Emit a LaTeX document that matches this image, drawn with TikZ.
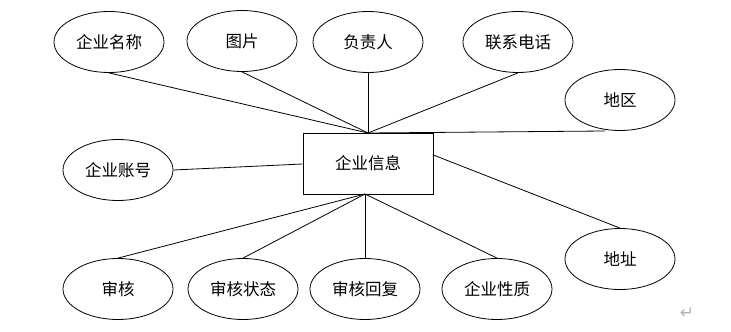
\documentclass[tikz,border=0pt]{standalone}
\usepackage{fontspec}
\newfontfamily\cjk{Noto Sans CJK SC}
\newfontfamily\symf{DejaVu Sans}
\usetikzlibrary{shapes.geometric}
\begin{document}
\begin{tikzpicture}[x=1pt,y=-1pt,
  attr/.style={draw, ellipse, minimum width=110pt, minimum height=61pt, inner sep=0pt, font=\cjk\fontsize{16.5}{18}\selectfont, line width=0.8pt},
  ent/.style={draw, rectangle, minimum width=130pt, minimum height=61pt, inner sep=0pt, font=\cjk\fontsize{16.5}{18}\selectfont, line width=0.8pt},
  link/.style={line width=0.8pt}]
\useasboundingbox (0,0) rectangle (731,332);
\node[ent] (e) at (368,163.5) {企业信息};
\node[attr] (a1) at (109,42) {企业名称};
\node[attr] (a2) at (242,41) {图片};
\node[attr] (a3) at (368,42) {负责人};
\node[attr] (a4) at (518,42) {联系电话};
\node[attr] (a5) at (620,100) {地区};
\node[attr] (a6) at (118,170) {企业账号};
\node[attr] (a7) at (620,259) {地址};
\node[attr] (b1) at (118,289) {审核};
\node[attr] (b2) at (243,289) {审核状态};
\node[attr] (b3) at (365,289) {审核回复};
\node[attr] (b4) at (497,289) {企业性质};
\node[font=\symf\fontsize{17}{18}\selectfont, text=gray!60, inner sep=0pt] (ret) at (687,313) {↵};
\coordinate (top) at (368,133);
\coordinate (bot) at (365,194);
\coordinate (a5end) at (605,131);
\draw[link] (a1.south) -- (top);
\draw[link] (a2.south) -- (top);
\draw[link] (a3.south) -- (top);
\draw[link] (a4.south) -- (top);
\draw[link] (top) -- (a5end);
\draw[link] (a6.east) -- (e.west |- 0,164);
\draw[link] (a7.north) -- (e.east |- 0,155);
\draw[link] (b1.north) -- (bot);
\draw[link] (b2.north) -- (bot);
\draw[link] (b3.north) -- (bot);
\draw[link] (b4.north) -- (bot);
\end{tikzpicture}
\end{document}
